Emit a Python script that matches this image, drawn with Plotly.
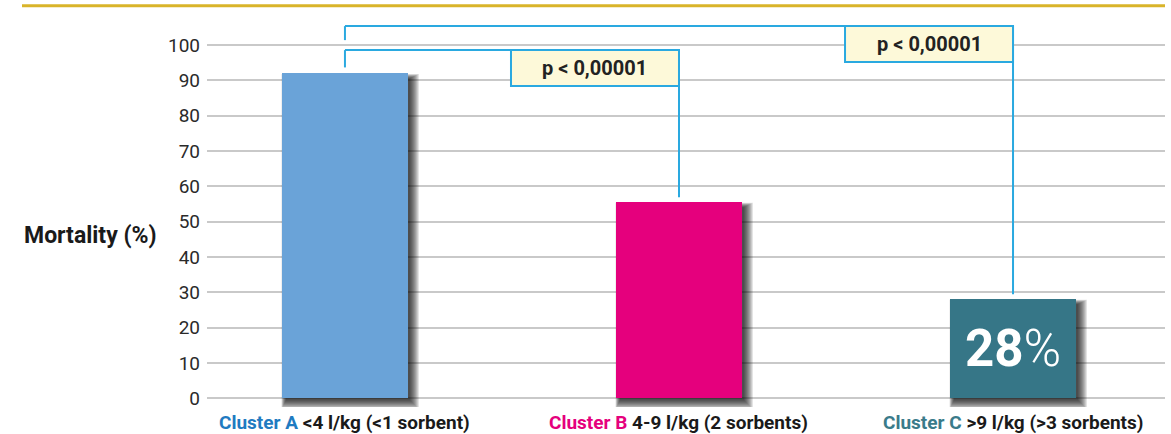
import plotly.graph_objects as go

# ---- data -------------------------------------------------------------
CLUSTERS = ["Cluster A", "Cluster B", "Cluster C"]
CLUSTER_DESC = ["<4 l/kg (<1 sorbent)", "4-9 l/kg (2 sorbents)", ">9 l/kg (>3 sorbents)"]
MORTALITY = [92, 55.5, 28]
Y_TICKS = [0, 10, 20, 30, 40, 50, 60, 70, 80, 90, 100]
COMPARISONS = [(0, 1), (0, 2)]
P_LABELS = ["p < 0,00001", "p < 0,00001"]

# ---- styling ----------------------------------------------------------
BAR_COLORS = ["#6aa3d8", "#e5007d", "#367687"]
LABEL_COLORS = ["#1f7bc1", "#e5007d", "#3a7b8a"]
BRACKET_COLOR = "#2aa9e0"
BOX_FILL = "#fdf9d9"
GOLD = "#d9b42a"
FONT = "Roboto"

W, H = 1171, 434
M_L, M_R, M_T, M_B = 207, 6, 0, 27
X_RANGE = [-0.413, 2.455]
Y_RANGE = [-2.5, 112.8]
PX_X = (W - M_L - M_R) / (X_RANGE[1] - X_RANGE[0])
PX_Y = (H - M_T - M_B) / (Y_RANGE[1] - Y_RANGE[0])


def dx(px):
    """Horizontal pixel distance expressed in x-axis units."""
    return px / PX_X


def dy(px):
    """Vertical pixel distance expressed in y-axis units."""
    return px / PX_Y


BAR_W = dx(126)
xs = list(range(len(CLUSTERS)))

fig = go.Figure()
fig.add_trace(go.Bar(
    x=xs, y=MORTALITY, width=BAR_W,
    marker=dict(color=BAR_COLORS, line=dict(width=0)),
    hoverinfo="skip", showlegend=False,
))

shapes = []
annotations = []

# soft drop shadow behind each bar (stacked translucent rectangles)
for x, v in zip(xs, MORTALITY):
    for s in range(9, -1, -1):
        shapes.append(dict(
            type="rect", xref="x", yref="y", layer="between",
            x0=x - BAR_W / 2 + dx(4 - s * 0.5), x1=x + BAR_W / 2 + dx(2 + s),
            y0=-dy(2 + s), y1=v - dy(5 - s * 0.5),
            fillcolor="black", opacity=0.11, line=dict(width=0),
        ))

# significance brackets with p-value boxes
LEVELS = [98.6, 105.4]
for (a, b), level, label in zip(COMPARISONS, LEVELS, P_LABELS):
    line = dict(color=BRACKET_COLOR, width=2)
    left_bottom = MORTALITY[a] + dy(6) if level == LEVELS[0] else LEVELS[0] + dy(10)
    shapes.append(dict(type="line", xref="x", yref="y", x0=a, x1=a,
                       y0=left_bottom, y1=level, line=line))
    shapes.append(dict(type="line", xref="x", yref="y", x0=a, x1=b,
                       y0=level, y1=level, line=line))
    shapes.append(dict(type="line", xref="x", yref="y", x0=b, x1=b,
                       y0=level, y1=MORTALITY[b] + dy(5), line=line))
    box_x0, box_y0 = b - dx(168), level - dy(36)
    shapes.append(dict(type="rect", xref="x", yref="y",
                       x0=box_x0, x1=b, y0=box_y0, y1=level,
                       fillcolor=BOX_FILL, line=line))
    annotations.append(dict(
        x=(box_x0 + b) / 2, y=(box_y0 + level) / 2, xref="x", yref="y",
        text=f"<b>{label}</b>", showarrow=False,
        font=dict(family=FONT, size=20, color="#222222"),
    ))

# gold rule across the top
shapes.append(dict(type="line", xref="paper", yref="paper",
                   x0=(22 - M_L) / (W - M_L - M_R), x1=1, y0=0.986, y1=0.986,
                   line=dict(color=GOLD, width=3)))

# value label on the last bar
annotations.append(dict(
    x=xs[-1], y=MORTALITY[-1] / 2, xref="x", yref="y",
    text=f"<b>{MORTALITY[-1]:.0f}</b><span style='font-weight:300'>%</span>",
    showarrow=False, font=dict(family=FONT, size=51, color="white"),
))

# category labels
for x, name, desc, col in zip(xs, CLUSTERS, CLUSTER_DESC, LABEL_COLORS):
    desc_html = desc.replace("<", "&lt;").replace(">", "&gt;")
    annotations.append(dict(
        x=x, y=-15 / (H - M_T - M_B), xref="x", yref="paper",
        text=f"<b><span style='color:{col}'>{name}</span> {desc_html}</b>",
        showarrow=False, yanchor="middle",
        font=dict(family=FONT, size=19, color="#1a1a1a"),
    ))

# y-axis title
annotations.append(dict(
    x=(22 - M_L) / (W - M_L - M_R), y=46.2, xref="paper", yref="y",
    xanchor="left", text="<b>Mortality (%)</b>", showarrow=False,
    font=dict(family=FONT, size=23, color="#1a1a1a"),
))

fig.update_layout(
    width=W, height=H,
    margin=dict(l=M_L, r=M_R, t=M_T, b=M_B, pad=0),
    paper_bgcolor="white", plot_bgcolor="white",
    shapes=shapes, annotations=annotations,
    xaxis=dict(range=X_RANGE, showticklabels=False, showgrid=False,
               zeroline=False, showline=False, ticks=""),
    yaxis=dict(range=Y_RANGE, tickvals=Y_TICKS, showgrid=True,
               gridcolor="#c9c9c9", gridwidth=1.5, zeroline=False,
               showline=False, ticks="", ticklabelstandoff=6,
               tickfont=dict(family=FONT, size=19, color="#2a2a2a")),
    bargap=0,
)

fig.write_html("out.html")
